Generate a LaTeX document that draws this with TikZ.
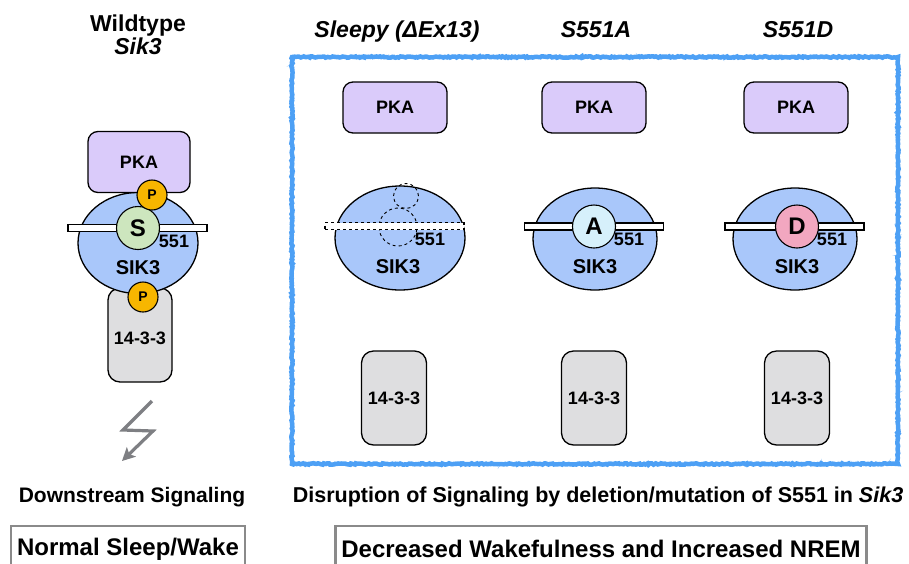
\documentclass[tikz,border=0pt]{standalone}
\usepackage{fontspec}
\setmainfont{Liberation Sans}
\usetikzlibrary{shapes.geometric,arrows.meta,decorations.pathmorphing}

\definecolor{pkafill}{HTML}{DACBFA}
\definecolor{sikfill}{HTML}{A9C7FA}
\definecolor{adaptfill}{HTML}{DEDEE0}
\definecolor{serfill}{HTML}{CDE6BE}
\definecolor{alafill}{HTML}{D6F0FB}
\definecolor{aspfill}{HTML}{F2A7C0}
\definecolor{phosfill}{HTML}{F7B600}
\definecolor{frameblue}{HTML}{4DA0F5}
\definecolor{boxgray}{HTML}{8A8A8A}
\definecolor{boltgray}{HTML}{7E7F83}

\newcommand{\fs}[1]{\fontsize{#1}{#1}\selectfont}

\begin{document}
\begin{tikzpicture}[x=1pt,y=-1pt,
  heading/.style={font=\bfseries\itshape\fs{23}, inner sep=0pt, anchor=base},
  plainhead/.style={font=\bfseries\fs{23}, inner sep=0pt, anchor=base},
  caption/.style={font=\bfseries\fs{21}, inner sep=0pt},
  pkabox/.style={draw=black, line width=1.3pt, fill=pkafill, rounded corners=10pt,
    minimum width=104pt, minimum height=51pt, font=\bfseries\fs{18}},
  adaptbox/.style={draw=black, line width=1.3pt, fill=adaptfill, rounded corners=12pt,
    minimum width=65pt, minimum height=94pt, font=\bfseries\fs{18}},
  kinase/.style={ellipse, draw=black, line width=1.3pt, fill=sikfill,
    minimum width=124pt, minimum height=102pt, inner sep=0pt},
  linker/.style={rectangle, draw=black, line width=1.1pt, fill=white,
    minimum width=139pt, minimum height=7pt, inner sep=0pt},
  residue/.style={circle, draw=black, line width=1.1pt, minimum size=43pt,
    inner sep=0pt, font=\bfseries\fs{24}},
  phos/.style={circle, draw=black, line width=1.1pt, fill=phosfill,
    minimum size=30pt, inner sep=0pt, font=\bfseries\fs{14}},
  ghost/.style={circle, draw=black, line width=0.9pt, dashed, inner sep=0pt},
  sitelabel/.style={font=\bfseries\fs{18}, inner sep=0pt},
  siklabel/.style={font=\bfseries\fs{20}, inner sep=0pt},
  outcome/.style={draw=boxgray, line width=2.5pt, fill=white,
    minimum height=46pt, inner xsep=6pt, font=\bfseries\fs{24}},
  bolt/.style={draw=boltgray, line width=3.2pt, line join=miter,
    -{Stealth[length=13pt,width=13pt,inset=3pt]}},
  chalk/.style={draw=frameblue, line width=4.5pt,
    decorate, decoration={random steps, segment length=1.6pt, amplitude=0.7pt}}
]
\useasboundingbox (0,0) rectangle (909,563);
\clip (0,0) rectangle (909,563);

% ---------- wildtype column ----------
\node[plainhead] (wtA) at (138,31) {Wildtype};
\node[heading]   (wtB) at (138,54) {Sik3};

\node[adaptbox, minimum width=64pt] (wtAdapt) at (140,335) {};
\node[kinase, minimum width=120pt, minimum height=101pt] (wtSik) at (138,243) {};
\node[pkabox, minimum width=102pt, minimum height=61pt] (wtPka) at (139,162) {PKA};
\node[font=\bfseries\fs{18}] (wtAdaptTxt) at (140,338) {14-3-3};
\node[linker] (wtBar) at (137.5,228) {};
\node[residue, fill=serfill] (wtRes) at (138,228) {S};
\node[sitelabel] (wtSite) at (174,241) {551};
\node[siklabel] (wtSikTxt) at (138,268) {SIK3};
\node[phos] (wtP1) at (152,195) {P};
\node[phos] (wtP2) at (143,297) {P};

% downstream arrow
\coordinate (z1) at (152,401);
\coordinate (z2) at (123,430);
\coordinate (z3) at (153,431);
\coordinate (z4) at (122,461);
\draw[bolt] (z1) -- (z2) -- (z3) -- (z4);

\node[caption] (downTxt) at (132,497) {Downstream Signaling};
\node[outcome] (normal) at (128,549) {Normal Sleep/Wake};

% ---------- mutant panel ----------
\draw[chalk] (292,57) rectangle (898,464);
\draw[frameblue, line width=1.2pt, opacity=0.6,
  decorate, decoration={random steps, segment length=1.2pt, amplitude=1.2pt}]
  (292,57) rectangle (898,464);

\node[heading] (hSleepy) at (397,37) {Sleepy (ΔEx13)};
\node[heading] (hA) at (596,37) {S551A};
\node[heading] (hD) at (798,37) {S551D};

% Sleepy: exon 13 deleted
\node[pkabox] (slPka) at (395,107.5) {PKA};
\node[kinase, minimum width=130pt, minimum height=104pt] (slSik) at (400,238) {};
\node[ghost, minimum size=38pt] (slRes) at (398,227) {};
\node[ghost, minimum size=25pt] (slP) at (406,196) {};
\node[linker, dashed, line width=1.2pt] (slBar) at (394.5,226) {};
\node[sitelabel] (slSite) at (430,239) {551};
\node[siklabel] (slSikTxt) at (398,267) {SIK3};
\node[adaptbox] (slAdapt) at (394,398) {14-3-3};

% S551A
\node[pkabox] (aPka) at (594,107.5) {PKA};
\node[kinase] (aSik) at (595,239) {};
\node[linker] (aBar) at (594,226.5) {};
\node[residue, fill=alafill] (aRes) at (594,226.5) {A};
\node[sitelabel] (aSite) at (629,239) {551};
\node[siklabel] (aSikTxt) at (595,267) {SIK3};
\node[adaptbox] (aAdapt) at (594,398) {14-3-3};

% S551D
\node[pkabox] (dPka) at (796,107.5) {PKA};
\node[kinase] (dSik) at (795,239) {};
\node[linker] (dBar) at (794.5,226.5) {};
\node[residue, fill=aspfill] (dRes) at (797,226.5) {D};
\node[sitelabel] (dSite) at (832,239) {551};
\node[siklabel] (dSikTxt) at (797,267) {SIK3};
\node[adaptbox] (dAdapt) at (797,398) {14-3-3};

\node[caption, font=\bfseries\fs{21.5}] (disTxt) at (598,497) {Disruption of Signaling by deletion/mutation of S551 in \textit{Sik3}};
\node[outcome, minimum width=527pt] (nrem) at (601,549) {Decreased Wakefulness and Increased NREM};
\end{tikzpicture}
\end{document}
